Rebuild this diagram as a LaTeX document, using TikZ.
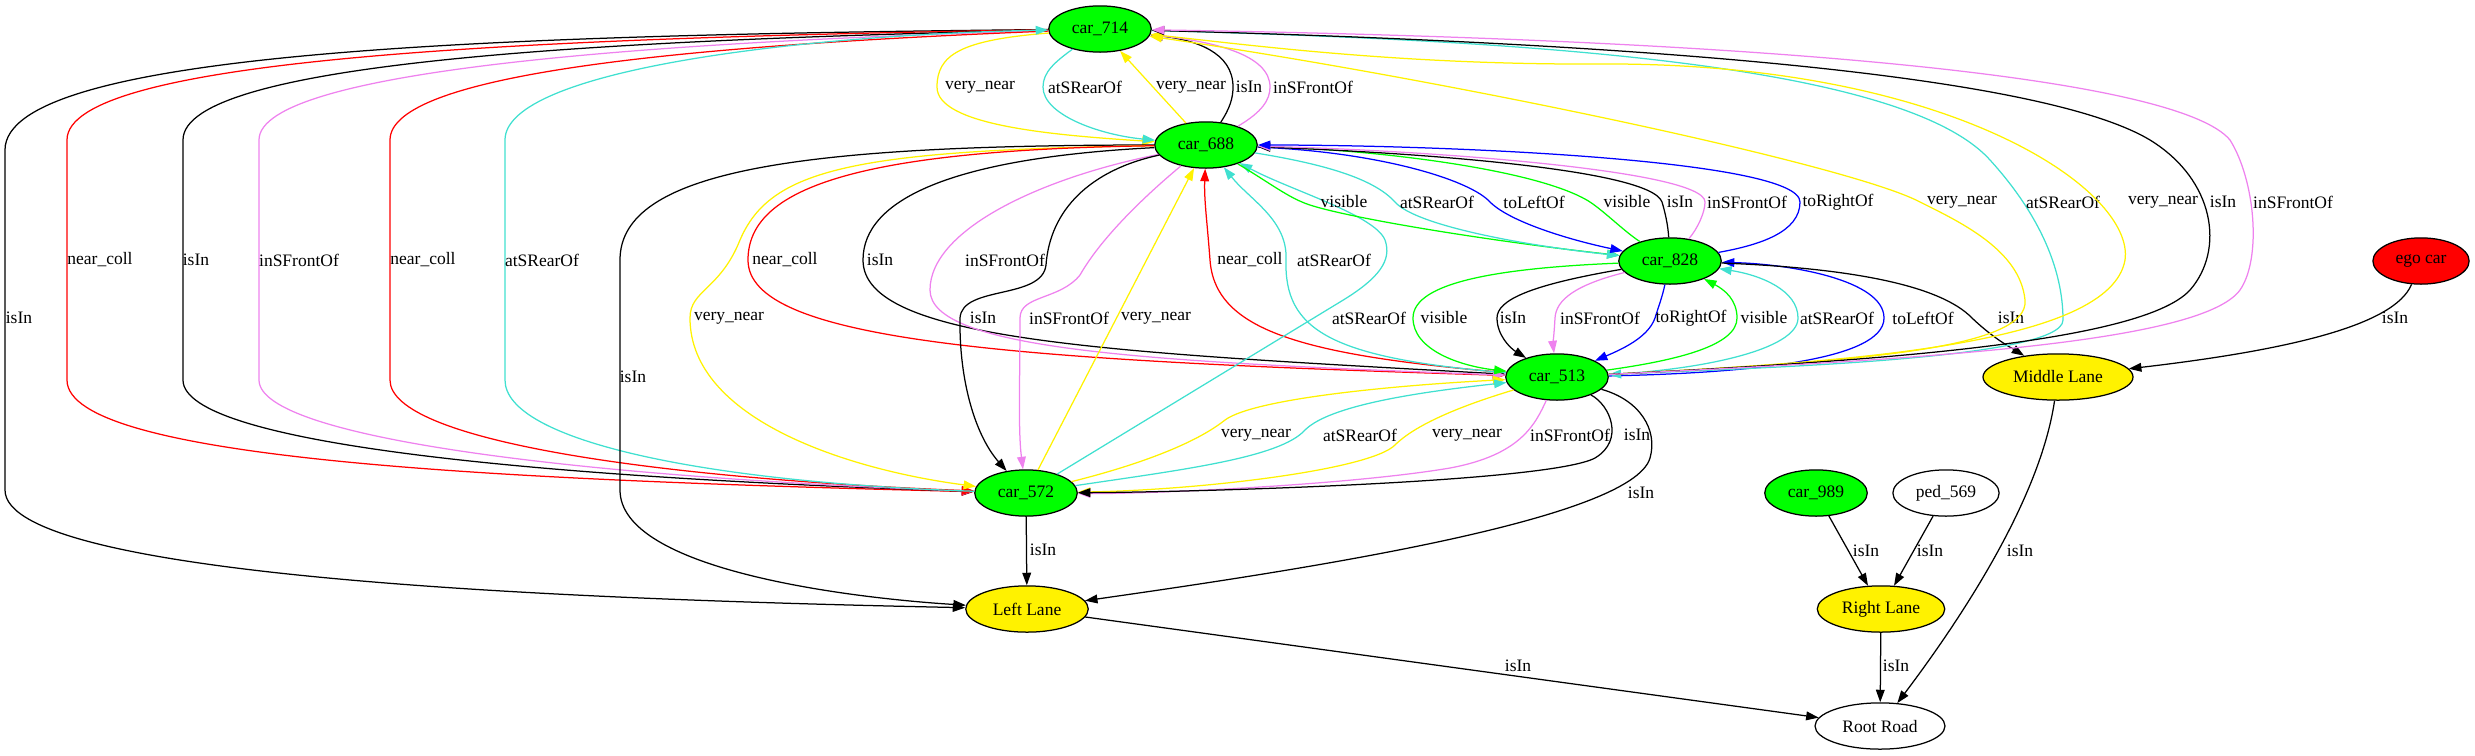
\documentclass[tikz,border=0pt]{standalone}
\usepackage{fontspec}
\setmainfont{Liberation Serif}
\usepackage{tikz}
\usetikzlibrary{arrows.meta,shapes.geometric}
\definecolor{turquoise}{RGB}{64,224,208}
\definecolor{pinkviolet}{RGB}{238,130,238}

\begin{document}
\begin{tikzpicture}[x=0.8pt,y=-0.8pt,->,>={Triangle[length=10pt,width=7pt]},line width=1pt,
                    every node/.style={font=\fontsize{14}{17}\selectfont}]
  \tikzstyle{obj}=[ellipse,draw=black,minimum height=37pt,inner sep=0pt]
  \tikzstyle{car}=[obj,fill=green,minimum width=82pt]
  \tikzstyle{lane}=[obj,fill=yellow]
  \tikzstyle{lbl}=[text=black,inner sep=0pt]
  \tikzstyle{vnear}=[yellow]
  \tikzstyle{srear}=[turquoise]
  \tikzstyle{sfront}=[pinkviolet]
  \tikzstyle{isin}=[black]
  \tikzstyle{ncoll}=[red]
  \tikzstyle{vis}=[green]
  \tikzstyle{tleft}=[blue]
  \tikzstyle{tright}=[blue]

  \useasboundingbox (0,0) rectangle (2475,755);

  \node[car]                      (c714)   at (1100,29)  {car\_714};
  \node[car]                      (c688)   at (1206,145) {car\_688};
  \node[car]                      (c828)   at (1670,261) {car\_828};
  \node[car]                      (c513)   at (1557,377) {car\_513};
  \node[car]                      (c572)   at (1026,493) {car\_572};
  \node[car]                      (c989)   at (1816,493) {car\_989};
  \node[obj,minimum width=85pt]   (p569)   at (1946,493) {ped\_569};
  \node[obj,fill=red,minimum width=77pt] (ego) at (2421,261) {ego car};
  \node[lane,minimum width=120pt] (lmid)   at (2058,377) {Middle Lane};
  \node[lane,minimum width=98pt]  (lleft)  at (1027,609) {Left Lane};
  \node[lane,minimum width=102pt] (lright) at (1881,609) {Right Lane};
  \node[obj,minimum width=104pt]  (road)   at (1880,726) {Root Road};

  % car_714 and car_688
  \draw[vnear] (c714) .. controls (960,40) and (937,55) .. (937,87) .. controls (937,125) and (1050,135) .. (c688) node[lbl] at (980,87) {very\_near};
  \draw[srear] (c714) .. controls (1055,62) and (1043,72) .. (1043,87) .. controls (1043,115) and (1100,135) .. (c688) node[lbl] at (1085,87) {atSRearOf};
  \draw[vnear] (c688) -- (c714) node[lbl] at (1191,87) {very\_near};
  \draw[isin] (c688) .. controls (1230,108) and (1233,98) .. (1233,87) .. controls (1233,52) and (1195,40) .. (c714) node[lbl] at (1249,87) {isIn};
  \draw[sfront] (c688) .. controls (1262,112) and (1270,100) .. (1270,87) .. controls (1270,55) and (1215,42) .. (c714) node[lbl] at (1313,87) {inSFrontOf};

  % car_714 round the left
  \draw[isin] (c714) .. controls (500,35) and (5,50) .. (5,150) -- (5,490) .. controls (5,580) and (600,600) .. (lleft) node[lbl] at (19,318) {isIn};
  \draw[ncoll] (c714) .. controls (500,38) and (67,60) .. (67,140) -- (67,380) .. controls (67,460) and (500,480) .. (c572) node[lbl] at (100,260) {near\_coll};
  \draw[isin] (c714) .. controls (600,40) and (183,62) .. (183,140) -- (183,380) .. controls (183,445) and (550,478) .. (c572) node[lbl] at (196,260) {isIn};
  \draw[sfront] (c714) .. controls (650,42) and (259,70) .. (259,140) -- (259,380) .. controls (259,440) and (600,478) .. (c572) node[lbl] at (299,260) {inSFrontOf};
  \draw[ncoll] (c714) .. controls (700,45) and (390,72) .. (390,140) -- (390,380) .. controls (390,440) and (650,478) .. (c572) node[lbl] at (423,260) {near\_coll};
  \draw[srear] (c572) .. controls (700,482) and (505,440) .. (505,380) -- (505,140) .. controls (505,70) and (800,35) .. (c714) node[lbl] at (542,260) {atSRearOf};

  % car_688 downwards
  \draw[isin] (c688) .. controls (800,145) and (620,170) .. (620,260) -- (620,490) .. controls (620,570) and (850,598) .. (lleft) node[lbl] at (633,377) {isIn};
  \draw[vnear] (c688) .. controls (850,150) and (770,170) .. (740,240) .. controls (720,290) and (690,290) .. (690,318) .. controls (690,420) and (850,470) .. (c572) node[lbl] at (729,318) {very\_near};
  \draw[ncoll] (c688) .. controls (850,150) and (748,190) .. (748,260) .. controls (748,340) and (1000,360) .. (c513) node[lbl] at (785,260) {near\_coll};
  \draw[isin] (c688) .. controls (950,158) and (863,200) .. (863,260) .. controls (863,340) and (1100,352) .. (c513) node[lbl] at (880,260) {isIn};
  \draw[sfront] (c688) .. controls (1040,178) and (930,230) .. (930,290) .. controls (930,350) and (1150,362) .. (c513) node[lbl] at (1005,260) {inSFrontOf};
  \draw[isin] (c688) .. controls (1090,170) and (1050,210) .. (1046,265) .. controls (1042,300) and (962,285) .. (960,318) .. controls (959,380) and (975,435) .. (c572) node[lbl] at (983,318) {isIn};
  \draw[sfront] (c688) .. controls (1140,200) and (1100,240) .. (1080,275) .. controls (1060,300) and (1020,295) .. (1020,318) .. controls (1020,380) and (1018,430) .. (c572) node[lbl] at (1069,318) {inSFrontOf};
  \draw[vnear] (c572) -- (c688) node[lbl] at (1156,318) {very\_near};
  \draw[ncoll] (c513) .. controls (1300,355) and (1215,330) .. (1210,260) .. controls (1207,220) and (1204,200) .. (c688) node[lbl] at (1250,260) {near\_coll};
  \draw[srear] (c513) .. controls (1330,358) and (1284,330) .. (1286,260) .. controls (1288,220) and (1250,200) .. (c688) node[lbl] at (1334,260) {atSRearOf};
  \draw[srear] (c572) -- (1340,302) .. controls (1380,278) and (1392,260) .. (1385,240) .. controls (1375,215) and (1290,190) .. (c688) node[lbl] at (1369,318) {atSRearOf};

  % car_688 and car_828
  \draw[vis] (c688) .. controls (1265,180) and (1285,195) .. (1302,202) .. controls (1330,215) and (1480,240) .. (c828) node[lbl] at (1344,202) {visible};
  \draw[srear] (c688) .. controls (1330,165) and (1375,180) .. (1395,202) .. controls (1415,225) and (1520,245) .. (c828) node[lbl] at (1437,202) {atSRearOf};
  \draw[tleft] (c688) .. controls (1380,152) and (1470,180) .. (1490,202) .. controls (1510,222) and (1570,240) .. (c828) node[lbl] at (1534,202) {toLeftOf};
  \draw[vis] (c828) .. controls (1625,232) and (1605,212) .. (1590,202) .. controls (1540,170) and (1380,150) .. (c688) node[lbl] at (1627,202) {visible};
  \draw[isin] (c828) .. controls (1668,225) and (1665,212) .. (1662,202) .. controls (1650,168) and (1400,152) .. (c688) node[lbl] at (1680,202) {isIn};
  \draw[sfront] (c828) .. controls (1698,228) and (1705,212) .. (1705,202) .. controls (1705,170) and (1420,150) .. (c688) node[lbl] at (1747,202) {inSFrontOf};
  \draw[tright] (c828) .. controls (1760,245) and (1800,232) .. (1800,202) .. controls (1800,160) and (1450,145) .. (c688) node[lbl] at (1838,202) {toRightOf};

  % car_828 and car_513
  \draw[vis] (c828) .. controls (1500,268) and (1413,282) .. (1413,318) .. controls (1413,350) and (1460,366) .. (c513) node[lbl] at (1444,318) {visible};
  \draw[isin] (c828) .. controls (1530,285) and (1497,300) .. (1497,318) .. controls (1497,335) and (1510,348) .. (c513) node[lbl] at (1513,318) {isIn};
  \draw[sfront] (c828) .. controls (1575,285) and (1556,300) .. (1555,318) .. controls (1554,335) and (1553,345) .. (c513) node[lbl] at (1600,318) {inSFrontOf};
  \draw[tright] (c828) .. controls (1662,298) and (1658,308) .. (1655,318) .. controls (1648,338) and (1620,350) .. (c513) node[lbl] at (1691,318) {toRightOf};
  \draw[vis] (c513) .. controls (1680,360) and (1737,345) .. (1737,318) .. controls (1737,300) and (1725,290) .. (c828) node[lbl] at (1764,318) {visible};
  \draw[srear] (c513) .. controls (1700,370) and (1798,350) .. (1798,318) .. controls (1798,290) and (1760,275) .. (c828) node[lbl] at (1837,318) {atSRearOf};
  \draw[tleft] (c513) .. controls (1750,373) and (1884,360) .. (1884,318) .. controls (1884,280) and (1790,264) .. (c828) node[lbl] at (1923,318) {toLeftOf};
  \draw[isin] (c828) .. controls (1850,268) and (1940,285) .. (1972,318) .. controls (1995,340) and (2015,350) .. (lmid) node[lbl] at (2011,318) {isIn};

  % car_513 round the right to car_714
  \draw[vnear] (c513) .. controls (1850,362) and (2030,350) .. (2025,300) .. controls (2020,250) and (1960,222) .. (1920,202) .. controls (1850,165) and (1450,80) .. (c714) node[lbl] at (1962,202) {very\_near};
  \draw[srear] (c714) .. controls (1500,40) and (1900,60) .. (1990,160) .. controls (2040,215) and (2063,270) .. (2063,320) .. controls (2063,360) and (1750,368) .. (c513) node[lbl] at (2063,202) {atSRearOf};
  \draw[vnear] (c513) .. controls (1850,362) and (2110,345) .. (2125,260) .. controls (2135,190) and (1950,62) .. (1600,64) .. controls (1400,65) and (1250,45) .. (c714) node[lbl] at (2163,202) {very\_near};
  \draw[isin] (c513) .. controls (1850,362) and (2140,345) .. (2190,290) .. controls (2225,250) and (2215,180) .. (2150,140) .. controls (2050,80) and (1700,45) .. (c714) node[lbl] at (2223,202) {isIn};
  \draw[sfront] (c513) .. controls (1900,360) and (2200,345) .. (2240,290) .. controls (2262,258) and (2255,180) .. (2230,140) .. controls (2180,80) and (1800,40) .. (c714) node[lbl] at (2293,202) {inSFrontOf};

  % car_513 and car_572
  \draw[vnear] (c572) .. controls (1150,462) and (1200,440) .. (1225,420) .. controls (1255,398) and (1400,385) .. (c513) node[lbl] at (1256,435) {very\_near};
  \draw[srear] (c572) .. controls (1180,470) and (1280,458) .. (1305,430) .. controls (1330,405) and (1420,392) .. (c513) node[lbl] at (1360,435) {atSRearOf};
  \draw[vnear] (c513) .. controls (1480,400) and (1420,420) .. (1395,445) .. controls (1370,470) and (1200,490) .. (c572) node[lbl] at (1467,435) {very\_near};
  \draw[sfront] (c513) .. controls (1535,425) and (1520,455) .. (1450,468) .. controls (1350,485) and (1150,494) .. (c572) node[lbl] at (1570,435) {inSFrontOf};
  \draw[isin] (c513) .. controls (1610,405) and (1625,440) .. (1595,458) .. controls (1550,482) and (1200,492) .. (c572) node[lbl] at (1637,435) {isIn};
  \draw[isin] (c513) .. controls (1640,400) and (1658,430) .. (1650,458) .. controls (1632,520) and (1300,570) .. (lleft) node[lbl] at (1641,493) {isIn};

  % lanes and road
  \draw[isin] (c572) -- (lleft) node[lbl] at (1043,550) {isIn};
  \draw[isin] (lleft) -- (road) node[lbl] at (1518,666) {isIn};
  \draw[isin] (ego) .. controls (2395,325) and (2290,350) .. (lmid) node[lbl] at (2395,318) {isIn};
  \draw[isin] (lmid) .. controls (2040,500) and (1960,620) .. (road) node[lbl] at (2020,551) {isIn};
  \draw[isin] (c989) -- (lright) node[lbl] at (1866,551) {isIn};
  \draw[isin] (p569) -- (lright) node[lbl] at (1930,551) {isIn};
  \draw[isin] (lright) -- (road) node[lbl] at (1896,666) {isIn};
\end{tikzpicture}
\end{document}
